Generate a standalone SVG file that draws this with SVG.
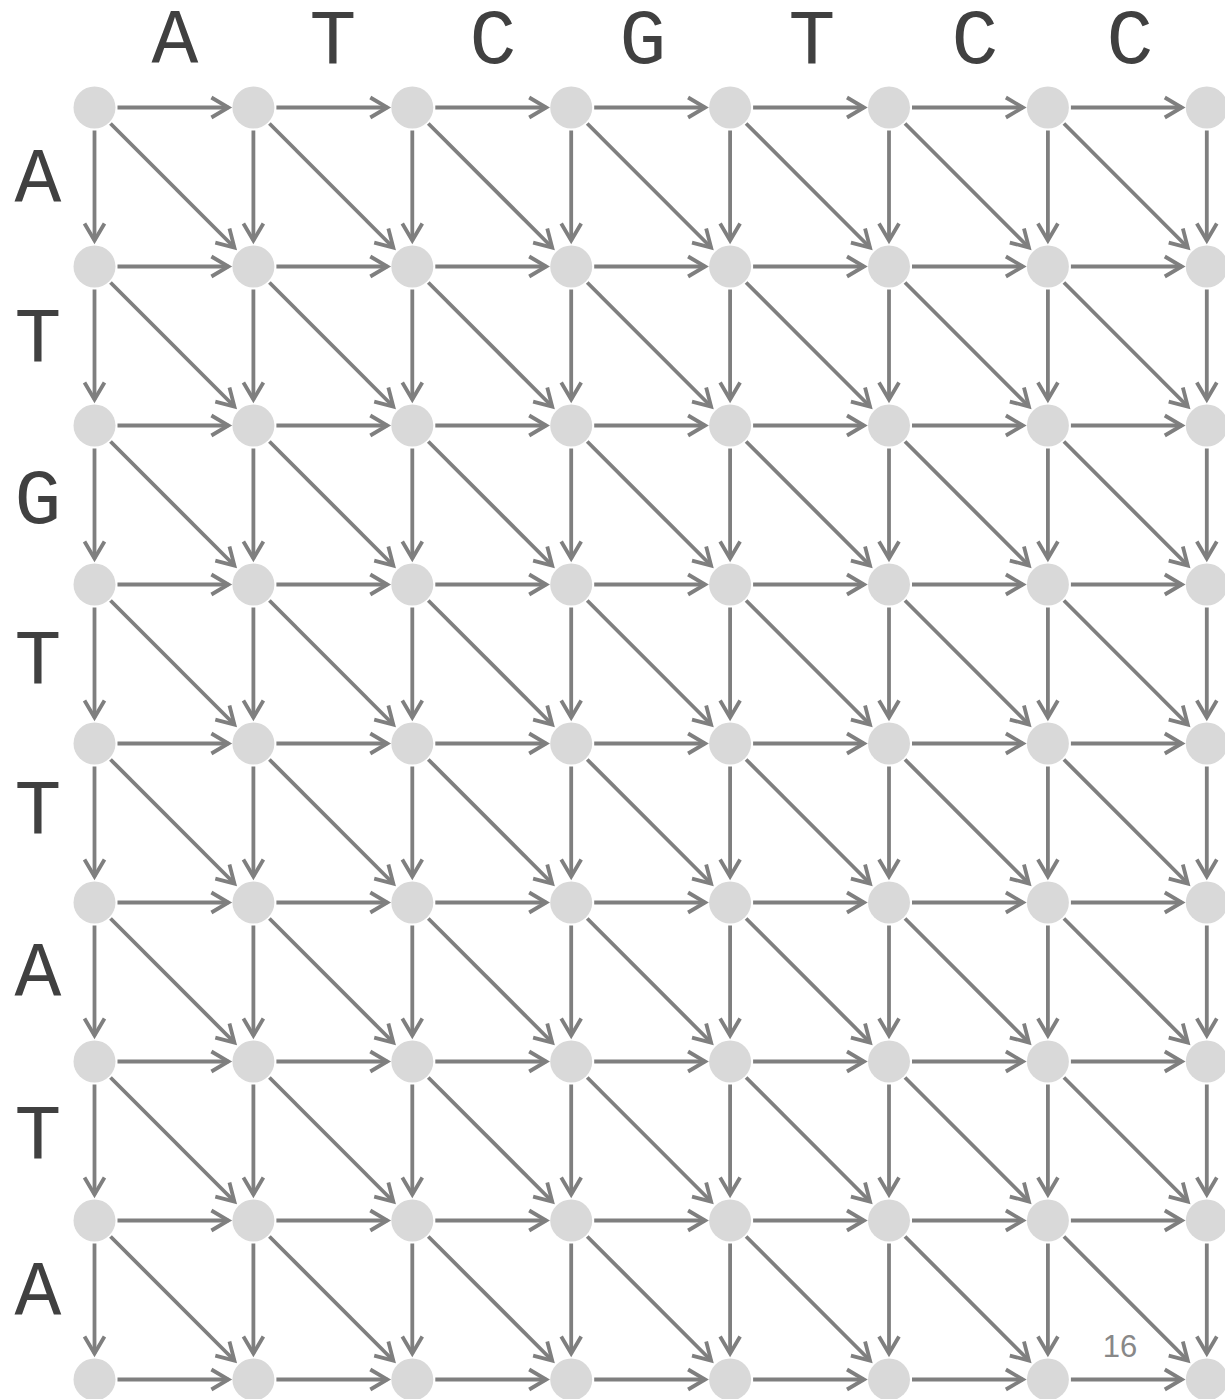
<svg xmlns="http://www.w3.org/2000/svg" width="1225" height="1399" viewBox="0 0 1225 1399">
<style>
.e{stroke:#7f7f7f;stroke-width:3.8;fill:none;marker-end:url(#ah)}
.n{fill:#d9d9d9}
.lab{font-family:"Courier New","Liberation Mono",monospace;font-size:78px;fill:#404040;text-anchor:middle}
.pg{font-family:"Liberation Sans",Arial,sans-serif;font-size:31px;fill:#888888;text-anchor:middle}
</style>
<defs>
<marker id="ah" markerUnits="userSpaceOnUse" viewBox="-22 -13 28 26" markerWidth="28" markerHeight="26" refX="0" refY="0" orient="auto" overflow="visible">
<path d="M-17,-10 L0,0 L-17,10" fill="none" stroke="#7f7f7f" stroke-width="3.8"/>
</marker>
</defs>
<rect width="1225" height="1399" fill="#ffffff"/>
<g id="labels">
<text class="lab" x="175" y="63">A</text>
<text class="lab" x="333" y="63">T</text>
<text class="lab" x="493" y="63">C</text>
<text class="lab" x="643" y="63">G</text>
<text class="lab" x="812" y="63">T</text>
<text class="lab" x="975" y="63">C</text>
<text class="lab" x="1130" y="63">C</text>
<text class="lab" x="38" y="202">A</text>
<text class="lab" x="38" y="361">T</text>
<text class="lab" x="38" y="523">G</text>
<text class="lab" x="38" y="683">T</text>
<text class="lab" x="38" y="833">T</text>
<text class="lab" x="38" y="996">A</text>
<text class="lab" x="38" y="1158">T</text>
<text class="lab" x="38" y="1315">A</text>
<text class="pg" x="1120" y="1357">16</text>
</g>
<g id="connectors">
<!-- horizontal -->
<line class="e" x1="117.5" y1="107.5" x2="228.4" y2="107.5"/><line class="e" x1="276.4" y1="107.5" x2="387.3" y2="107.5"/><line class="e" x1="435.3" y1="107.5" x2="546.2" y2="107.5"/><line class="e" x1="594.2" y1="107.5" x2="705.1" y2="107.5"/><line class="e" x1="753.1" y1="107.5" x2="864" y2="107.5"/><line class="e" x1="912" y1="107.5" x2="1022.9" y2="107.5"/><line class="e" x1="1070.9" y1="107.5" x2="1181.8" y2="107.5"/>
<line class="e" x1="117.5" y1="266.5" x2="228.4" y2="266.5"/><line class="e" x1="276.4" y1="266.5" x2="387.3" y2="266.5"/><line class="e" x1="435.3" y1="266.5" x2="546.2" y2="266.5"/><line class="e" x1="594.2" y1="266.5" x2="705.1" y2="266.5"/><line class="e" x1="753.1" y1="266.5" x2="864" y2="266.5"/><line class="e" x1="912" y1="266.5" x2="1022.9" y2="266.5"/><line class="e" x1="1070.9" y1="266.5" x2="1181.8" y2="266.5"/>
<line class="e" x1="117.5" y1="425.5" x2="228.4" y2="425.5"/><line class="e" x1="276.4" y1="425.5" x2="387.3" y2="425.5"/><line class="e" x1="435.3" y1="425.5" x2="546.2" y2="425.5"/><line class="e" x1="594.2" y1="425.5" x2="705.1" y2="425.5"/><line class="e" x1="753.1" y1="425.5" x2="864" y2="425.5"/><line class="e" x1="912" y1="425.5" x2="1022.9" y2="425.5"/><line class="e" x1="1070.9" y1="425.5" x2="1181.8" y2="425.5"/>
<line class="e" x1="117.5" y1="584.5" x2="228.4" y2="584.5"/><line class="e" x1="276.4" y1="584.5" x2="387.3" y2="584.5"/><line class="e" x1="435.3" y1="584.5" x2="546.2" y2="584.5"/><line class="e" x1="594.2" y1="584.5" x2="705.1" y2="584.5"/><line class="e" x1="753.1" y1="584.5" x2="864" y2="584.5"/><line class="e" x1="912" y1="584.5" x2="1022.9" y2="584.5"/><line class="e" x1="1070.9" y1="584.5" x2="1181.8" y2="584.5"/>
<line class="e" x1="117.5" y1="743.5" x2="228.4" y2="743.5"/><line class="e" x1="276.4" y1="743.5" x2="387.3" y2="743.5"/><line class="e" x1="435.3" y1="743.5" x2="546.2" y2="743.5"/><line class="e" x1="594.2" y1="743.5" x2="705.1" y2="743.5"/><line class="e" x1="753.1" y1="743.5" x2="864" y2="743.5"/><line class="e" x1="912" y1="743.5" x2="1022.9" y2="743.5"/><line class="e" x1="1070.9" y1="743.5" x2="1181.8" y2="743.5"/>
<line class="e" x1="117.5" y1="902.5" x2="228.4" y2="902.5"/><line class="e" x1="276.4" y1="902.5" x2="387.3" y2="902.5"/><line class="e" x1="435.3" y1="902.5" x2="546.2" y2="902.5"/><line class="e" x1="594.2" y1="902.5" x2="705.1" y2="902.5"/><line class="e" x1="753.1" y1="902.5" x2="864" y2="902.5"/><line class="e" x1="912" y1="902.5" x2="1022.9" y2="902.5"/><line class="e" x1="1070.9" y1="902.5" x2="1181.8" y2="902.5"/>
<line class="e" x1="117.5" y1="1061.5" x2="228.4" y2="1061.5"/><line class="e" x1="276.4" y1="1061.5" x2="387.3" y2="1061.5"/><line class="e" x1="435.3" y1="1061.5" x2="546.2" y2="1061.5"/><line class="e" x1="594.2" y1="1061.5" x2="705.1" y2="1061.5"/><line class="e" x1="753.1" y1="1061.5" x2="864" y2="1061.5"/><line class="e" x1="912" y1="1061.5" x2="1022.9" y2="1061.5"/><line class="e" x1="1070.9" y1="1061.5" x2="1181.8" y2="1061.5"/>
<line class="e" x1="117.5" y1="1220.5" x2="228.4" y2="1220.5"/><line class="e" x1="276.4" y1="1220.5" x2="387.3" y2="1220.5"/><line class="e" x1="435.3" y1="1220.5" x2="546.2" y2="1220.5"/><line class="e" x1="594.2" y1="1220.5" x2="705.1" y2="1220.5"/><line class="e" x1="753.1" y1="1220.5" x2="864" y2="1220.5"/><line class="e" x1="912" y1="1220.5" x2="1022.9" y2="1220.5"/><line class="e" x1="1070.9" y1="1220.5" x2="1181.8" y2="1220.5"/>
<line class="e" x1="117.5" y1="1379.5" x2="228.4" y2="1379.5"/><line class="e" x1="276.4" y1="1379.5" x2="387.3" y2="1379.5"/><line class="e" x1="435.3" y1="1379.5" x2="546.2" y2="1379.5"/><line class="e" x1="594.2" y1="1379.5" x2="705.1" y2="1379.5"/><line class="e" x1="753.1" y1="1379.5" x2="864" y2="1379.5"/><line class="e" x1="912" y1="1379.5" x2="1022.9" y2="1379.5"/><line class="e" x1="1070.9" y1="1379.5" x2="1181.8" y2="1379.5"/>
<!-- vertical -->
<line class="e" x1="94.5" y1="130.5" x2="94.5" y2="240.5"/><line class="e" x1="94.5" y1="289.5" x2="94.5" y2="399.5"/><line class="e" x1="94.5" y1="448.5" x2="94.5" y2="558.5"/><line class="e" x1="94.5" y1="607.5" x2="94.5" y2="717.5"/><line class="e" x1="94.5" y1="766.5" x2="94.5" y2="876.5"/><line class="e" x1="94.5" y1="925.5" x2="94.5" y2="1035.5"/><line class="e" x1="94.5" y1="1084.5" x2="94.5" y2="1194.5"/><line class="e" x1="94.5" y1="1243.5" x2="94.5" y2="1353.5"/>
<line class="e" x1="253.4" y1="130.5" x2="253.4" y2="240.5"/><line class="e" x1="253.4" y1="289.5" x2="253.4" y2="399.5"/><line class="e" x1="253.4" y1="448.5" x2="253.4" y2="558.5"/><line class="e" x1="253.4" y1="607.5" x2="253.4" y2="717.5"/><line class="e" x1="253.4" y1="766.5" x2="253.4" y2="876.5"/><line class="e" x1="253.4" y1="925.5" x2="253.4" y2="1035.5"/><line class="e" x1="253.4" y1="1084.5" x2="253.4" y2="1194.5"/><line class="e" x1="253.4" y1="1243.5" x2="253.4" y2="1353.5"/>
<line class="e" x1="412.3" y1="130.5" x2="412.3" y2="240.5"/><line class="e" x1="412.3" y1="289.5" x2="412.3" y2="399.5"/><line class="e" x1="412.3" y1="448.5" x2="412.3" y2="558.5"/><line class="e" x1="412.3" y1="607.5" x2="412.3" y2="717.5"/><line class="e" x1="412.3" y1="766.5" x2="412.3" y2="876.5"/><line class="e" x1="412.3" y1="925.5" x2="412.3" y2="1035.5"/><line class="e" x1="412.3" y1="1084.5" x2="412.3" y2="1194.5"/><line class="e" x1="412.3" y1="1243.5" x2="412.3" y2="1353.5"/>
<line class="e" x1="571.2" y1="130.5" x2="571.2" y2="240.5"/><line class="e" x1="571.2" y1="289.5" x2="571.2" y2="399.5"/><line class="e" x1="571.2" y1="448.5" x2="571.2" y2="558.5"/><line class="e" x1="571.2" y1="607.5" x2="571.2" y2="717.5"/><line class="e" x1="571.2" y1="766.5" x2="571.2" y2="876.5"/><line class="e" x1="571.2" y1="925.5" x2="571.2" y2="1035.5"/><line class="e" x1="571.2" y1="1084.5" x2="571.2" y2="1194.5"/><line class="e" x1="571.2" y1="1243.5" x2="571.2" y2="1353.5"/>
<line class="e" x1="730.1" y1="130.5" x2="730.1" y2="240.5"/><line class="e" x1="730.1" y1="289.5" x2="730.1" y2="399.5"/><line class="e" x1="730.1" y1="448.5" x2="730.1" y2="558.5"/><line class="e" x1="730.1" y1="607.5" x2="730.1" y2="717.5"/><line class="e" x1="730.1" y1="766.5" x2="730.1" y2="876.5"/><line class="e" x1="730.1" y1="925.5" x2="730.1" y2="1035.5"/><line class="e" x1="730.1" y1="1084.5" x2="730.1" y2="1194.5"/><line class="e" x1="730.1" y1="1243.5" x2="730.1" y2="1353.5"/>
<line class="e" x1="889" y1="130.5" x2="889" y2="240.5"/><line class="e" x1="889" y1="289.5" x2="889" y2="399.5"/><line class="e" x1="889" y1="448.5" x2="889" y2="558.5"/><line class="e" x1="889" y1="607.5" x2="889" y2="717.5"/><line class="e" x1="889" y1="766.5" x2="889" y2="876.5"/><line class="e" x1="889" y1="925.5" x2="889" y2="1035.5"/><line class="e" x1="889" y1="1084.5" x2="889" y2="1194.5"/><line class="e" x1="889" y1="1243.5" x2="889" y2="1353.5"/>
<line class="e" x1="1047.9" y1="130.5" x2="1047.9" y2="240.5"/><line class="e" x1="1047.9" y1="289.5" x2="1047.9" y2="399.5"/><line class="e" x1="1047.9" y1="448.5" x2="1047.9" y2="558.5"/><line class="e" x1="1047.9" y1="607.5" x2="1047.9" y2="717.5"/><line class="e" x1="1047.9" y1="766.5" x2="1047.9" y2="876.5"/><line class="e" x1="1047.9" y1="925.5" x2="1047.9" y2="1035.5"/><line class="e" x1="1047.9" y1="1084.5" x2="1047.9" y2="1194.5"/><line class="e" x1="1047.9" y1="1243.5" x2="1047.9" y2="1353.5"/>
<line class="e" x1="1206.8" y1="130.5" x2="1206.8" y2="240.5"/><line class="e" x1="1206.8" y1="289.5" x2="1206.8" y2="399.5"/><line class="e" x1="1206.8" y1="448.5" x2="1206.8" y2="558.5"/><line class="e" x1="1206.8" y1="607.5" x2="1206.8" y2="717.5"/><line class="e" x1="1206.8" y1="766.5" x2="1206.8" y2="876.5"/><line class="e" x1="1206.8" y1="925.5" x2="1206.8" y2="1035.5"/><line class="e" x1="1206.8" y1="1084.5" x2="1206.8" y2="1194.5"/><line class="e" x1="1206.8" y1="1243.5" x2="1206.8" y2="1353.5"/>
<!-- diagonal -->
<line class="e" x1="110.5" y1="123.5" x2="234.4" y2="247.5"/><line class="e" x1="269.4" y1="123.5" x2="393.3" y2="247.5"/><line class="e" x1="428.3" y1="123.5" x2="552.2" y2="247.5"/><line class="e" x1="587.2" y1="123.5" x2="711.1" y2="247.5"/><line class="e" x1="746.1" y1="123.5" x2="870" y2="247.5"/><line class="e" x1="905" y1="123.5" x2="1028.9" y2="247.5"/><line class="e" x1="1063.9" y1="123.5" x2="1187.8" y2="247.5"/>
<line class="e" x1="110.5" y1="282.5" x2="234.4" y2="406.5"/><line class="e" x1="269.4" y1="282.5" x2="393.3" y2="406.5"/><line class="e" x1="428.3" y1="282.5" x2="552.2" y2="406.5"/><line class="e" x1="587.2" y1="282.5" x2="711.1" y2="406.5"/><line class="e" x1="746.1" y1="282.5" x2="870" y2="406.5"/><line class="e" x1="905" y1="282.5" x2="1028.9" y2="406.5"/><line class="e" x1="1063.9" y1="282.5" x2="1187.8" y2="406.5"/>
<line class="e" x1="110.5" y1="441.5" x2="234.4" y2="565.5"/><line class="e" x1="269.4" y1="441.5" x2="393.3" y2="565.5"/><line class="e" x1="428.3" y1="441.5" x2="552.2" y2="565.5"/><line class="e" x1="587.2" y1="441.5" x2="711.1" y2="565.5"/><line class="e" x1="746.1" y1="441.5" x2="870" y2="565.5"/><line class="e" x1="905" y1="441.5" x2="1028.9" y2="565.5"/><line class="e" x1="1063.9" y1="441.5" x2="1187.8" y2="565.5"/>
<line class="e" x1="110.5" y1="600.5" x2="234.4" y2="724.5"/><line class="e" x1="269.4" y1="600.5" x2="393.3" y2="724.5"/><line class="e" x1="428.3" y1="600.5" x2="552.2" y2="724.5"/><line class="e" x1="587.2" y1="600.5" x2="711.1" y2="724.5"/><line class="e" x1="746.1" y1="600.5" x2="870" y2="724.5"/><line class="e" x1="905" y1="600.5" x2="1028.9" y2="724.5"/><line class="e" x1="1063.9" y1="600.5" x2="1187.8" y2="724.5"/>
<line class="e" x1="110.5" y1="759.5" x2="234.4" y2="883.5"/><line class="e" x1="269.4" y1="759.5" x2="393.3" y2="883.5"/><line class="e" x1="428.3" y1="759.5" x2="552.2" y2="883.5"/><line class="e" x1="587.2" y1="759.5" x2="711.1" y2="883.5"/><line class="e" x1="746.1" y1="759.5" x2="870" y2="883.5"/><line class="e" x1="905" y1="759.5" x2="1028.9" y2="883.5"/><line class="e" x1="1063.9" y1="759.5" x2="1187.8" y2="883.5"/>
<line class="e" x1="110.5" y1="918.5" x2="234.4" y2="1042.5"/><line class="e" x1="269.4" y1="918.5" x2="393.3" y2="1042.5"/><line class="e" x1="428.3" y1="918.5" x2="552.2" y2="1042.5"/><line class="e" x1="587.2" y1="918.5" x2="711.1" y2="1042.5"/><line class="e" x1="746.1" y1="918.5" x2="870" y2="1042.5"/><line class="e" x1="905" y1="918.5" x2="1028.9" y2="1042.5"/><line class="e" x1="1063.9" y1="918.5" x2="1187.8" y2="1042.5"/>
<line class="e" x1="110.5" y1="1077.5" x2="234.4" y2="1201.5"/><line class="e" x1="269.4" y1="1077.5" x2="393.3" y2="1201.5"/><line class="e" x1="428.3" y1="1077.5" x2="552.2" y2="1201.5"/><line class="e" x1="587.2" y1="1077.5" x2="711.1" y2="1201.5"/><line class="e" x1="746.1" y1="1077.5" x2="870" y2="1201.5"/><line class="e" x1="905" y1="1077.5" x2="1028.9" y2="1201.5"/><line class="e" x1="1063.9" y1="1077.5" x2="1187.8" y2="1201.5"/>
<line class="e" x1="110.5" y1="1236.5" x2="234.4" y2="1360.5"/><line class="e" x1="269.4" y1="1236.5" x2="393.3" y2="1360.5"/><line class="e" x1="428.3" y1="1236.5" x2="552.2" y2="1360.5"/><line class="e" x1="587.2" y1="1236.5" x2="711.1" y2="1360.5"/><line class="e" x1="746.1" y1="1236.5" x2="870" y2="1360.5"/><line class="e" x1="905" y1="1236.5" x2="1028.9" y2="1360.5"/><line class="e" x1="1063.9" y1="1236.5" x2="1187.8" y2="1360.5"/>
</g>
<g id="nodes">
<g id="n0-0"><circle class="n" cx="94.5" cy="107.5" r="21"/></g><g id="n1-0"><circle class="n" cx="253.4" cy="107.5" r="21"/></g><g id="n2-0"><circle class="n" cx="412.3" cy="107.5" r="21"/></g><g id="n3-0"><circle class="n" cx="571.2" cy="107.5" r="21"/></g><g id="n4-0"><circle class="n" cx="730.1" cy="107.5" r="21"/></g><g id="n5-0"><circle class="n" cx="889" cy="107.5" r="21"/></g><g id="n6-0"><circle class="n" cx="1047.9" cy="107.5" r="21"/></g><g id="n7-0"><circle class="n" cx="1206.8" cy="107.5" r="21"/></g>
<g id="n0-1"><circle class="n" cx="94.5" cy="266.5" r="21"/></g><g id="n1-1"><circle class="n" cx="253.4" cy="266.5" r="21"/></g><g id="n2-1"><circle class="n" cx="412.3" cy="266.5" r="21"/></g><g id="n3-1"><circle class="n" cx="571.2" cy="266.5" r="21"/></g><g id="n4-1"><circle class="n" cx="730.1" cy="266.5" r="21"/></g><g id="n5-1"><circle class="n" cx="889" cy="266.5" r="21"/></g><g id="n6-1"><circle class="n" cx="1047.9" cy="266.5" r="21"/></g><g id="n7-1"><circle class="n" cx="1206.8" cy="266.5" r="21"/></g>
<g id="n0-2"><circle class="n" cx="94.5" cy="425.5" r="21"/></g><g id="n1-2"><circle class="n" cx="253.4" cy="425.5" r="21"/></g><g id="n2-2"><circle class="n" cx="412.3" cy="425.5" r="21"/></g><g id="n3-2"><circle class="n" cx="571.2" cy="425.5" r="21"/></g><g id="n4-2"><circle class="n" cx="730.1" cy="425.5" r="21"/></g><g id="n5-2"><circle class="n" cx="889" cy="425.5" r="21"/></g><g id="n6-2"><circle class="n" cx="1047.9" cy="425.5" r="21"/></g><g id="n7-2"><circle class="n" cx="1206.8" cy="425.5" r="21"/></g>
<g id="n0-3"><circle class="n" cx="94.5" cy="584.5" r="21"/></g><g id="n1-3"><circle class="n" cx="253.4" cy="584.5" r="21"/></g><g id="n2-3"><circle class="n" cx="412.3" cy="584.5" r="21"/></g><g id="n3-3"><circle class="n" cx="571.2" cy="584.5" r="21"/></g><g id="n4-3"><circle class="n" cx="730.1" cy="584.5" r="21"/></g><g id="n5-3"><circle class="n" cx="889" cy="584.5" r="21"/></g><g id="n6-3"><circle class="n" cx="1047.9" cy="584.5" r="21"/></g><g id="n7-3"><circle class="n" cx="1206.8" cy="584.5" r="21"/></g>
<g id="n0-4"><circle class="n" cx="94.5" cy="743.5" r="21"/></g><g id="n1-4"><circle class="n" cx="253.4" cy="743.5" r="21"/></g><g id="n2-4"><circle class="n" cx="412.3" cy="743.5" r="21"/></g><g id="n3-4"><circle class="n" cx="571.2" cy="743.5" r="21"/></g><g id="n4-4"><circle class="n" cx="730.1" cy="743.5" r="21"/></g><g id="n5-4"><circle class="n" cx="889" cy="743.5" r="21"/></g><g id="n6-4"><circle class="n" cx="1047.9" cy="743.5" r="21"/></g><g id="n7-4"><circle class="n" cx="1206.8" cy="743.5" r="21"/></g>
<g id="n0-5"><circle class="n" cx="94.5" cy="902.5" r="21"/></g><g id="n1-5"><circle class="n" cx="253.4" cy="902.5" r="21"/></g><g id="n2-5"><circle class="n" cx="412.3" cy="902.5" r="21"/></g><g id="n3-5"><circle class="n" cx="571.2" cy="902.5" r="21"/></g><g id="n4-5"><circle class="n" cx="730.1" cy="902.5" r="21"/></g><g id="n5-5"><circle class="n" cx="889" cy="902.5" r="21"/></g><g id="n6-5"><circle class="n" cx="1047.9" cy="902.5" r="21"/></g><g id="n7-5"><circle class="n" cx="1206.8" cy="902.5" r="21"/></g>
<g id="n0-6"><circle class="n" cx="94.5" cy="1061.5" r="21"/></g><g id="n1-6"><circle class="n" cx="253.4" cy="1061.5" r="21"/></g><g id="n2-6"><circle class="n" cx="412.3" cy="1061.5" r="21"/></g><g id="n3-6"><circle class="n" cx="571.2" cy="1061.5" r="21"/></g><g id="n4-6"><circle class="n" cx="730.1" cy="1061.5" r="21"/></g><g id="n5-6"><circle class="n" cx="889" cy="1061.5" r="21"/></g><g id="n6-6"><circle class="n" cx="1047.9" cy="1061.5" r="21"/></g><g id="n7-6"><circle class="n" cx="1206.8" cy="1061.5" r="21"/></g>
<g id="n0-7"><circle class="n" cx="94.5" cy="1220.5" r="21"/></g><g id="n1-7"><circle class="n" cx="253.4" cy="1220.5" r="21"/></g><g id="n2-7"><circle class="n" cx="412.3" cy="1220.5" r="21"/></g><g id="n3-7"><circle class="n" cx="571.2" cy="1220.5" r="21"/></g><g id="n4-7"><circle class="n" cx="730.1" cy="1220.5" r="21"/></g><g id="n5-7"><circle class="n" cx="889" cy="1220.5" r="21"/></g><g id="n6-7"><circle class="n" cx="1047.9" cy="1220.5" r="21"/></g><g id="n7-7"><circle class="n" cx="1206.8" cy="1220.5" r="21"/></g>
<g id="n0-8"><circle class="n" cx="94.5" cy="1379.5" r="21"/></g><g id="n1-8"><circle class="n" cx="253.4" cy="1379.5" r="21"/></g><g id="n2-8"><circle class="n" cx="412.3" cy="1379.5" r="21"/></g><g id="n3-8"><circle class="n" cx="571.2" cy="1379.5" r="21"/></g><g id="n4-8"><circle class="n" cx="730.1" cy="1379.5" r="21"/></g><g id="n5-8"><circle class="n" cx="889" cy="1379.5" r="21"/></g><g id="n6-8"><circle class="n" cx="1047.9" cy="1379.5" r="21"/></g><g id="n7-8"><circle class="n" cx="1206.8" cy="1379.5" r="21"/></g>
</g>
</svg>
